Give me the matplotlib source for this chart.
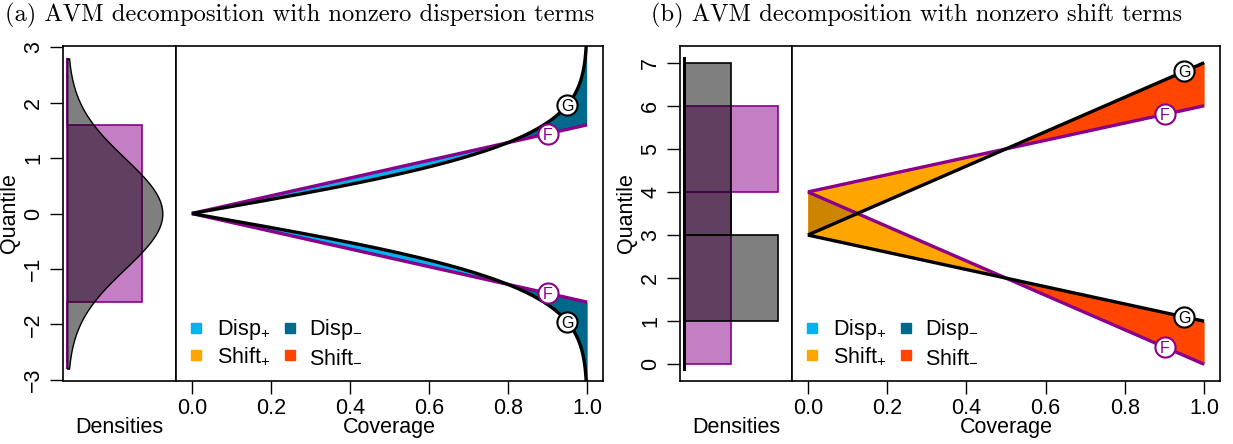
import numpy as np
import matplotlib
matplotlib.use("Agg")
import matplotlib.pyplot as plt
from statistics import NormalDist

plt.rcParams['font.family'] = ['Liberation Sans', 'DejaVu Sans']
plt.rcParams['mathtext.fontset'] = 'custom'
plt.rcParams['mathtext.rm'] = 'Liberation Sans'
plt.rcParams['mathtext.it'] = 'Liberation Sans:italic'
plt.rcParams['mathtext.default'] = 'regular'

# ---- distributions -------------------------------------------------------
# panel (a): F uniform on [-1.6, 1.6], G standard normal
unif_breaks = [-1.6, 1.6]
unif_heights = [1 / 3.2]
norm_mean, norm_sd = 0.0, 1.0
a_yrange = (-2.8, 2.8)

# panel (b): piecewise-constant densities
f_breaks = [0, 4, 6]
f_heights = [0.125, 0.25]
g_breaks = [1, 3, 7]
g_heights = [0.25, 0.125]
b_yrange = (-0.1, 7.1)

# coverage levels at which the curves are labelled
label_cov_G = 0.95
label_cov_F = 0.90

cov_ticks = [0.0, 0.2, 0.4, 0.6, 0.8, 1.0]
cov_ticklabels = ['0.0', '0.2', '0.4', '0.6', '0.8', '1.0']
a_qticks = [-3, -2, -1, 0, 1, 2, 3]
a_qticklabels = ['\u22123', '\u22122', '\u22121', '0', '1', '2', '3']
b_qticks = [0, 1, 2, 3, 4, 5, 6, 7]
b_qticklabels = ['0', '1', '2', '3', '4', '5', '6', '7']

titles = ['(a) AVM decomposition with nonzero dispersion terms',
          '(b) AVM decomposition with nonzero shift terms']
legend_labels = ['Disp$_{+}$', 'Disp$_{-}$', 'Shift$_{+}$', 'Shift$_{-}$']

F_COL = '#8B008B'
G_COL = 'black'
DISP_P = '#00B2EE'
DISP_M = '#00688B'
SHIFT_P = '#FFA500'
SHIFT_M = '#FF4500'
OVERLAP = '#CD8500'
legend_colors = [DISP_P, DISP_M, SHIFT_P, SHIFT_M]


# ---- helpers -------------------------------------------------------------
def step_polygon(breaks, heights, yrange):
    ys = [yrange[0]]
    xs = [0.0]
    for i, h in enumerate(heights):
        ys += [breaks[i], breaks[i], breaks[i + 1], breaks[i + 1]]
        xs += [0.0, h, h, 0.0]
    ys.append(yrange[1])
    xs.append(0.0)
    return np.array(xs), np.array(ys)


def step_quantile(breaks, heights):
    b = np.asarray(breaks, float)
    cdf = np.concatenate([[0.0], np.cumsum(np.diff(b) * np.asarray(heights))])
    return lambda p: np.interp(p, cdf, b)


def central(qfun, c):
    c = np.asarray(c, float)
    return qfun((1 - c) / 2), qfun((1 + c) / 2)


def padded(lo, hi, frac=0.04):
    r = hi - lo
    return lo - frac * r, hi + frac * r


nd = NormalDist(norm_mean, norm_sd)
norm_q = np.vectorize(nd.inv_cdf)

W, H = 1233, 444
fig = plt.figure(figsize=(W / 100, H / 100), dpi=100)


def fig_rect(x0, x1, y0, y1):
    return [x0 / W, 1 - y1 / H, (x1 - x0) / W, (y1 - y0) / H]


def style_box(ax):
    for s in ax.spines.values():
        s.set_linewidth(1.2)
        s.set_color('black')


def density_axes(rect, ylim, yticks, yticklabels):
    ax = fig.add_axes(rect)
    style_box(ax)
    ax.set_ylim(*ylim)
    ax.set_xticks([])
    ax.set_yticks(yticks)
    ax.set_yticklabels(yticklabels)
    ax.tick_params(axis='y', direction='out', length=9.5, width=1.0,
                   labelsize=15.5, pad=4, labelrotation=90)
    for lab in ax.get_yticklabels():
        lab.set_va('center')
    ax.set_ylabel('Quantile', fontsize=15.5)
    ax.yaxis.set_label_coords(-0.38, 0.5)
    ax.set_xlabel('Densities', fontsize=15.5)
    ax.xaxis.set_label_coords(0.5, -0.14)
    ax.xaxis.label.set_va('center')
    return ax


def coverage_axes(rect, ylim):
    ax = fig.add_axes(rect)
    style_box(ax)
    ax.set_xlim(-0.04, 1.04)
    ax.set_ylim(*ylim)
    ax.set_yticks([])
    ax.set_xticks(cov_ticks)
    ax.set_xticklabels(cov_ticklabels)
    ax.tick_params(axis='x', direction='out', length=9.5, width=1.0,
                   labelsize=15.5, pad=3)
    ax.set_xlabel('Coverage', fontsize=15.5)
    ax.xaxis.set_label_coords(0.5, -0.14)
    ax.xaxis.label.set_va('center')
    return ax


def fill_bands(ax, c, fl, fu, gl, gu, plus_col, minus_col, kind):
    # upper band: F above G counts as "+" for both kinds
    ax.fill_between(c, fu, gu, where=fu >= gu, interpolate=True,
                    color=plus_col, lw=0, zorder=1)
    ax.fill_between(c, fu, gu, where=fu <= gu, interpolate=True,
                    color=minus_col, lw=0, zorder=1)
    if kind == 'disp':
        lower_plus = fl <= gl
    else:
        lower_plus = fl >= gl
    ax.fill_between(c, fl, gl, where=lower_plus, interpolate=True,
                    color=plus_col, lw=0, zorder=1)
    ax.fill_between(c, fl, gl, where=~lower_plus, interpolate=True,
                    color=minus_col, lw=0, zorder=1)
    # region covered by both bands
    ov_lo = np.maximum(np.minimum(fu, gu), np.minimum(fl, gl))
    ov_hi = np.minimum(np.maximum(fu, gu), np.maximum(fl, gl))
    ax.fill_between(c, ov_lo, ov_hi, where=ov_hi > ov_lo, interpolate=True,
                    color=OVERLAP, lw=0, zorder=1.5)


def draw_curves(ax, c, fl, fu, gl, gu):
    for y in (fl, fu):
        ax.plot(c, y, color=F_COL, lw=2.4, zorder=2, solid_capstyle='butt')
    for y in (gl, gu):
        ax.plot(c, y, color=G_COL, lw=2.4, zorder=2.1, solid_capstyle='butt')


def label_curves(ax, cF, fqs, cG, gqs):
    for cc, qs, col, txt in ((cF, fqs, F_COL, 'F'), (cG, gqs, G_COL, 'G')):
        for q in qs:
            ax.plot([cc], [q], 'o', ms=14.5, mfc='white', mec=col, mew=1.5,
                    zorder=3)
            ax.text(cc, q, txt, color=col, fontsize=11.5, ha='center',
                    va='center_baseline', zorder=4)


def legend(ax):
    sq_x = [0.047, 0.267]
    tx_x = [0.095, 0.311]
    rows = [0.158, 0.0776]
    for i, (lab, col) in enumerate(zip(legend_labels, legend_colors)):
        r, k = divmod(i, 2)
        ax.plot([sq_x[k]], [rows[r]], 's', ms=6.8, mfc=col, mec=col,
                transform=ax.transAxes, zorder=5)
        ax.text(tx_x[k], rows[r] - 0.021, lab, fontsize=15.5, ha='left',
                va='baseline', transform=ax.transAxes, zorder=5)


# ---- panel (a) -----------------------------------------------------------
ylim_a = padded(*a_yrange)
axd = density_axes(fig_rect(63, 176, 46, 381), ylim_a, a_qticks, a_qticklabels)
yy = np.linspace(a_yrange[0], a_yrange[1], 600)
gd = np.array([nd.pdf(v) for v in yy])
top = 1.1 * gd.max()
axd.set_xlim(-0.04 * top, top * 1.04)
ux, uy = step_polygon(unif_breaks, unif_heights, a_yrange)
axd.fill(ux, uy, facecolor=(0.545, 0.0, 0.545, 0.5), edgecolor=F_COL, lw=1.2)
axd.fill_betweenx(yy, 0, gd, facecolor=(0, 0, 0, 0.5), edgecolor='black',
                  lw=1.0)

axc = coverage_axes(fig_rect(176, 603, 46, 381), ylim_a)
c = np.linspace(0, 0.99995, 3000)
unif_q = step_quantile(unif_breaks, unif_heights)
fl, fu = central(unif_q, c)
gl, gu = central(norm_q, c)
fill_bands(axc, c, fl, fu, gl, gu, DISP_P, DISP_M, 'disp')
draw_curves(axc, c, fl, fu, gl, gu)
label_curves(axc, label_cov_F, central(unif_q, label_cov_F),
             label_cov_G, central(norm_q, label_cov_G))
legend(axc)

# ---- panel (b) -----------------------------------------------------------
ylim_b = padded(*b_yrange)
axd2 = density_axes(fig_rect(680, 792, 46, 381), ylim_b, b_qticks, b_qticklabels)
top = 1.1 * max(max(f_heights), max(g_heights))
axd2.set_xlim(-0.04 * top, top * 1.04)
fx, fy = step_polygon(f_breaks, f_heights, b_yrange)
gx, gy = step_polygon(g_breaks, g_heights, b_yrange)
axd2.fill(fx, fy, facecolor=(0.545, 0.0, 0.545, 0.5), edgecolor=F_COL, lw=1.2)
axd2.fill(gx, gy, facecolor=(0, 0, 0, 0.5), edgecolor='black', lw=1.2)
axd2.plot([0, 0], b_yrange, color='black', lw=2.2)

axc2 = coverage_axes(fig_rect(792, 1220, 46, 381), ylim_b)
c = np.linspace(0, 1, 2001)
fq = step_quantile(f_breaks, f_heights)
gq = step_quantile(g_breaks, g_heights)
fl, fu = central(fq, c)
gl, gu = central(gq, c)
fill_bands(axc2, c, fl, fu, gl, gu, SHIFT_P, SHIFT_M, 'shift')
draw_curves(axc2, c, fl, fu, gl, gu)
label_curves(axc2, label_cov_F, central(fq, label_cov_F),
             label_cov_G, central(gq, label_cov_G))
legend(axc2)

# ---- titles --------------------------------------------------------------
fig.text(5 / W, 1 - 15 / H, titles[0], family='cmr10', fontsize=17.7,
         ha='left', va='center')
fig.text(651 / W, 1 - 15 / H, titles[1], family='cmr10', fontsize=17.7,
         ha='left', va='center')

fig.savefig('out.png', dpi=100)
